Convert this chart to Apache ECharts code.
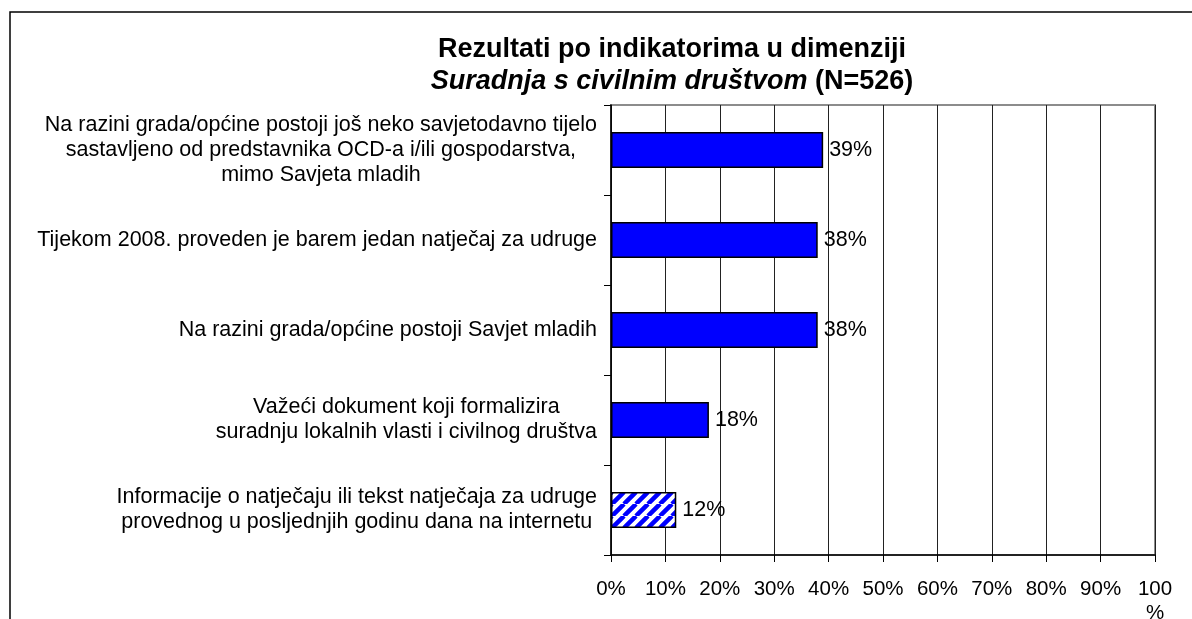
<!DOCTYPE html>
<html>
<head>
<meta charset="utf-8">
<script src="https://cdn.jsdelivr.net/npm/echarts@6/dist/echarts.min.js"></script>
<style>
html,body{margin:0;padding:0;background:#fff;}
#chart{width:1192px;height:619px;}
</style>
</head>
<body>
<div id="chart"></div>
<script>
// podaci
var categories = [
  'Na razini grada/općine postoji još neko savjetodavno tijelo\nsastavljeno od predstavnika OCD-a i/ili gospodarstva,\nmimo Savjeta mladih',
  'Tijekom 2008. proveden je barem jedan natječaj za udruge',
  'Na razini grada/općine postoji Savjet mladih',
  'Važeći dokument koji formalizira\nsuradnju lokalnih vlasti i civilnog društva',
  'Informacije o natječaju ili tekst natječaja za udruge\nprovednog u posljednjih godinu dana na internetu'
]
var values = [39, 38, 38, 18, 12]
var hatched = [false, false, false, false, true]
var xTicks = [0, 10, 20, 30, 40, 50, 60, 70, 80, 90, 100]

var FONT = '"Liberation Sans", Arial, sans-serif'

// uzorak s kosim crtama
function makeHatch(){
  var s = 12
  var c = document.createElement('canvas')
  c.width = s
  c.height = s
  var ctx = c.getContext('2d')
  ctx.fillStyle = '#fff'
  ctx.fillRect(0, 0, s, s)
  ctx.strokeStyle = '#0000ff'
  ctx.lineWidth = 4.5
  ctx.beginPath()
  for (var k = -s; k <= 2 * s; k += s) {
    ctx.moveTo(k, s)
    ctx.lineTo(k + s, 0)
  }
  ctx.stroke()
  return c
}
var hatch = makeHatch()

var chart = echarts.init(document.getElementById('chart'))

var seriesData = values.map(function(v, i){
  var item = {value: v}
  if (hatched[i]) {
    item.itemStyle = {color: {image: hatch, repeat: 'repeat'}}
  }
  return item
})

var option = {
  animation: false,
  title: {
    left: 667,
    top: 29,
    textAlign: 'center',
    text: '{b|Rezultati po indikatorima u dimenziji}\n{i|Suradnja s civilnim društvom}{b| (N=526)}',
    textStyle: {
      rich: {
        b: {fontFamily: FONT, fontSize: 27, fontWeight: 'bold', color: '#000', lineHeight: 32, align: 'center'},
        i: {fontFamily: FONT, fontSize: 27, fontWeight: 'bold', fontStyle: 'italic', color: '#000', lineHeight: 32, align: 'center'}
      }
    }
  },
  graphic: [{
    type: 'rect',
    shape: {x: 10, y: 12, width: 1400, height: 800},
    style: {fill: null, stroke: '#000', lineWidth: 1.5},
    silent: true,
    z: -1
  }],
  grid: {
    left: 611,
    right: 37,
    top: 105,
    bottom: 64,
    show: true,
    borderColor: '#8c8c8c',
    borderWidth: 2,
    containLabel: false,
    outerBoundsMode: 'none'
  },
  xAxis: {
    type: 'value',
    min: 0,
    max: 100,
    interval: 10,
    axisLine: {show: true, lineStyle: {color: '#000', width: 1.5}},
    axisTick: {show: true, length: 7, lineStyle: {color: '#000'}},
    splitLine: {show: true, lineStyle: {color: '#222', width: 1}},
    axisLabel: {
      fontFamily: FONT,
      fontSize: 20.5,
      color: '#000',
      margin: 22,
      lineHeight: 24,
      formatter: function(v){ return v === 100 ? '100\n%' : v + '%' }
    }
  },
  yAxis: {
    type: 'category',
    inverse: true,
    data: categories,
    axisLine: {show: true, lineStyle: {color: '#000', width: 1.5}},
    axisTick: {show: true, length: 7, lineStyle: {color: '#000'}},
    axisLabel: {
      margin: 14,
      formatter: function(v){
        return v.split('\n').map(function(l){ return '{c|' + l + '}' }).join('\n')
      },
      rich: {
        c: {fontFamily: FONT, fontSize: 21.5, color: '#000', lineHeight: 25, align: 'center'}
      }
    }
  },
  series: [{
    type: 'bar',
    data: seriesData,
    barWidth: 36,
    itemStyle: {color: '#0000ff', borderColor: '#000', borderWidth: 1.5},
    label: {
      show: true,
      position: 'right',
      distance: 6,
      fontFamily: FONT,
      fontSize: 21.5,
      color: '#000',
      formatter: '{c}%'
    }
  }]
}
chart.setOption(option)
</script>
</body>
</html>
